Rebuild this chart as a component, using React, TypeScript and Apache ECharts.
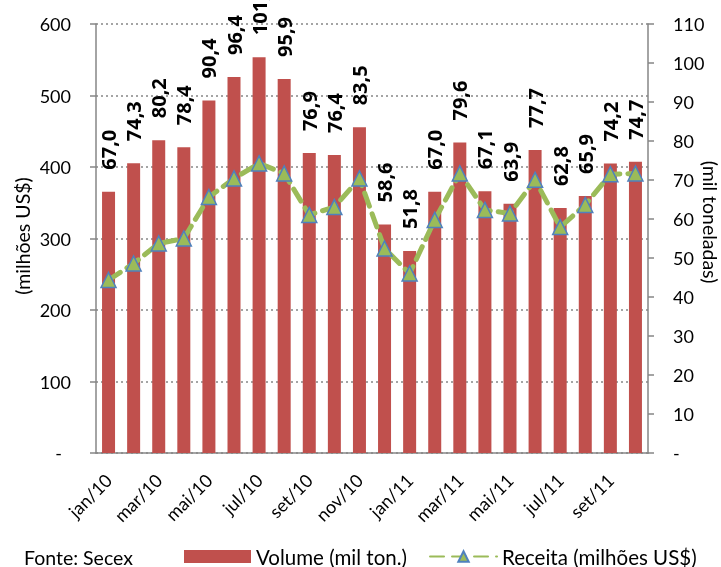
import React, { useEffect, useRef } from 'react';
import * as echarts from 'echarts';

const categories = ['jan/10', 'fev/10', 'mar/10', 'abr/10', 'mai/10', 'jun/10', 'jul/10', 'ago/10', 'set/10', 'out/10', 'nov/10', 'dez/10', 'jan/11', 'fev/11', 'mar/11', 'abr/11', 'mai/11', 'jun/11', 'jul/11', 'ago/11', 'set/11', 'out/11'];
const volume = [67.0, 74.3, 80.2, 78.4, 90.4, 96.4, 101.5, 95.9, 76.9, 76.4, 83.5, 58.6, 51.8, 67.0, 79.6, 67.1, 63.9, 77.7, 62.8, 65.9, 74.2, 74.7];
const receita = [242, 265, 293, 300, 358, 384, 405, 391, 333, 344, 384, 286, 251, 326, 391, 340, 335, 382, 316, 347, 390, 391];

const FONT = 'Lato';
const BOLD_FONT = 'Open Sans';
const AXIS_GRAY = '#868686';

export default function App() {
  const ref = useRef<HTMLDivElement>(null);
  useEffect(() => {
    if (!ref.current) return;
    const chart = echarts.init(ref.current, null, { renderer: 'svg' });
    const dashFmt = (v: number) => (v === 0 ? '{d|-}' : String(v));
    chart.setOption({
      animation: false,
      textStyle: { fontFamily: FONT },
      grid: { left: 96, right: 73, top: 24, bottom: 114, containLabel: false },
      legend: {
        left: 184,
        top: 546,
        padding: 0,
        itemWidth: 67,
        itemHeight: 13,
        itemGap: 22,
        textStyle: { fontFamily: FONT, fontSize: 20.5, color: '#000' },
        data: [
          { name: 'Volume (mil ton.)', icon: 'rect' },
          { name: 'Receita (milhões US$)' },
        ],
      },
      graphic: [
        {
          type: 'text',
          x: 22,
          y: 236,
          rotation: Math.PI / 2,
          style: { text: '(milhões US$)', font: `19.5px ${FONT}`, fill: '#000', align: 'center', verticalAlign: 'middle' },
        },
        {
          type: 'text',
          x: 710,
          y: 222,
          rotation: -Math.PI / 2,
          style: { text: '(mil toneladas)', font: `19.5px ${FONT}`, fill: '#000', align: 'center', verticalAlign: 'middle' },
        },
        {
          type: 'text',
          x: 24,
          y: 557,
          style: { text: 'Fonte: Secex', font: `19.5px ${FONT}`, fill: '#000', align: 'left', verticalAlign: 'middle' },
        },
      ],
      xAxis: {
        type: 'category',
        data: categories,
        axisLine: { lineStyle: { color: AXIS_GRAY, width: 1.5 } },
        axisTick: { interval: 1, length: 5, lineStyle: { color: AXIS_GRAY, width: 1.5 } },
        axisLabel: {
          interval: 1,
          rotate: 45,
          margin: 24,
          fontFamily: FONT,
          fontSize: 18,
          color: '#000',
        },
      },
      yAxis: [
        {
          type: 'value',
          min: 0,
          max: 600,
          interval: 100,
          position: 'left',
          axisLine: { show: true, lineStyle: { color: AXIS_GRAY, width: 1.5 } },
          axisTick: { show: true, length: 6, lineStyle: { color: AXIS_GRAY, width: 1.5 } },
          axisLabel: {
            margin: 25,
            fontFamily: FONT,
            fontSize: 18,
            color: '#000',
            formatter: dashFmt,
            rich: { d: { fontFamily: FONT, fontSize: 18, color: '#000', padding: [0, 9, 0, 0] } },
          },
          splitLine: { show: true, lineStyle: { color: AXIS_GRAY, type: [2, 3], width: 1.5 } },
        },
        {
          type: 'value',
          min: 0,
          max: 110,
          interval: 10,
          position: 'right',
          axisLine: { show: true, lineStyle: { color: AXIS_GRAY, width: 1.5 } },
          axisTick: { show: true, length: 6, lineStyle: { color: AXIS_GRAY, width: 1.5 } },
          axisLabel: {
            margin: 25,
            fontFamily: FONT,
            fontSize: 18,
            color: '#000',
            formatter: dashFmt,
            rich: { d: { fontFamily: FONT, fontSize: 18, color: '#000' } },
          },
          splitLine: { show: false },
        },
      ],
      series: [
        {
          name: 'Volume (mil ton.)',
          type: 'bar',
          yAxisIndex: 1,
          data: volume,
          barWidth: 13,
          itemStyle: { color: '#C0504D' },
          label: {
            show: true,
            position: 'top',
            rotate: 90,
            align: 'left',
            verticalAlign: 'middle',
            distance: 22,
            fontFamily: BOLD_FONT,
            fontWeight: 'bold',
            fontSize: 20,
            color: '#000',
            formatter: (p: any) => Number(p.value).toFixed(1).replace('.', ','),
          },
          z: 2,
        },
        {
          name: 'Receita (milhões US$)',
          type: 'line',
          yAxisIndex: 0,
          data: receita,
          symbol: 'triangle',
          symbolSize: 15,
          lineStyle: { color: '#9BBB59', width: 5, type: [14, 8], cap: 'round' },
          itemStyle: { color: '#9BBB59', borderColor: '#4F81BD', borderWidth: 1.5 },
          z: 3,
        },
      ],
    });
    return () => chart.dispose();
  }, []);
  return <div ref={ref} style={{ position: 'fixed', left: 0, top: 0, width: 721, height: 567 }} />;
}
